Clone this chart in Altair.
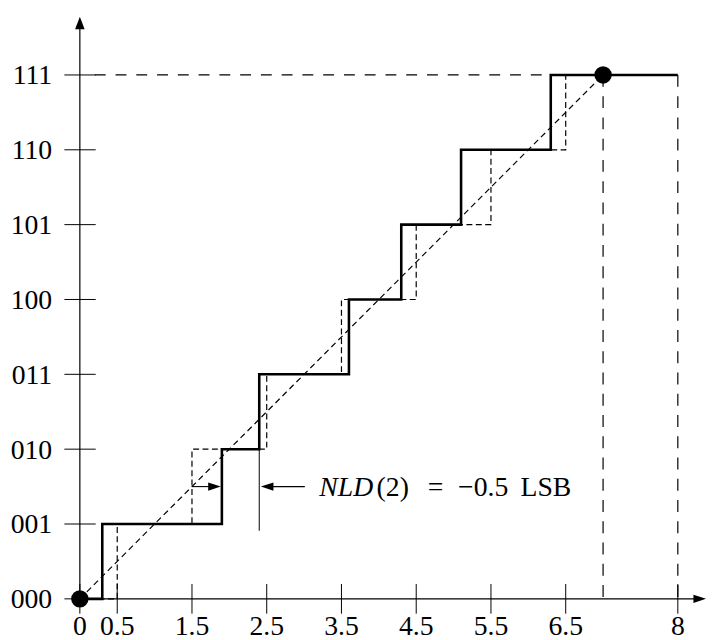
import altair as alt
import pandas as pd

# ---------------- data ----------------
y_levels = [0, 1, 2, 3, 4, 5, 6, 7]
y_codes = ["000", "001", "010", "011", "100", "101", "110", "111"]
x_tick_values = [0, 0.5, 1.5, 2.5, 3.5, 4.5, 5.5, 6.5, 8]
x_tick_labels = ["0", "0.5", "1.5", "2.5", "3.5", "4.5", "5.5", "6.5", "8"]
ideal_transitions = [0.5, 1.5, 2.5, 3.5, 4.5, 5.5, 6.5]
actual_transitions = [0.3, 1.9, 2.4, 3.6, 4.3, 5.1, 6.3]
full_scale = 8
endpoint_x = [0, 7]
endpoint_y = [0, 7]
guide_x = [7, 8]
nld_label_parts = ["(2)", "=", "\u22120.5", "LSB"]

# ---------------- scales ----------------
X_DOM = [-0.9613, 8.3769]
Y_DOM = [-0.502, 7.8468]
xs = alt.Scale(domain=X_DOM, nice=False, zero=False)
ys = alt.Scale(domain=Y_DOM, nice=False, zero=False)
FONT = "Liberation Serif"
FS = 28


def X(field, t="quantitative"):
    return alt.X(field, type=t, scale=xs, axis=None)


def Y(field, t="quantitative"):
    return alt.Y(field, type=t, scale=ys, axis=None)


def xd(v):
    return alt.XDatum(v, scale=xs, axis=None)


def yd(v):
    return alt.YDatum(v, scale=ys, axis=None)


# ---------------- tables ----------------
top = y_levels[-1]
actual_df = pd.DataFrame({
    "x": [0] + actual_transitions + [full_scale],
    "y": y_levels + [top],
    "i": list(range(len(y_levels) + 1)),
})
ideal_df = pd.DataFrame({
    "x": [0] + ideal_transitions,
    "y": y_levels,
    "i": list(range(len(y_levels))),
})
diag_df = pd.DataFrame({"x": endpoint_x, "y": endpoint_y, "i": [0, 1]})
dots_df = pd.DataFrame({"x": endpoint_x, "y": endpoint_y})
guide_df = pd.DataFrame({"x": guide_x})
xt_df = pd.DataFrame({"x": x_tick_values, "label": x_tick_labels})
yt_df = pd.DataFrame({"y": y_levels, "label": y_codes})

BLACK = "#000000"
one = pd.DataFrame({"a": [0]})

# ideal (dashed) staircase
ideal = alt.Chart(ideal_df).mark_line(
    interpolate="step-after", color=BLACK, strokeWidth=1.2, strokeDash=[6, 3.5]
).encode(x=X("x"), y=Y("y"), order="i:Q")

# ideal diagonal
diag = alt.Chart(diag_df).mark_line(
    color=BLACK, strokeWidth=1.2, strokeDash=[6, 4]
).encode(x=X("x"), y=Y("y"), order="i:Q")

# dashed 111 line
top_line = alt.Chart(one).mark_rule(
    color=BLACK, strokeWidth=1.2, strokeDash=[11, 10]
).encode(x=xd(0.2), x2=alt.X2Datum(endpoint_x[1]), y=yd(top))

# vertical dashed guides at 7 and 8
guides = alt.Chart(guide_df).mark_rule(
    color=BLACK, strokeWidth=1.2, strokeDash=[12, 9.5]
).encode(x=X("x"), y=yd(top), y2=alt.Y2Datum(0))

# actual staircase
actual = alt.Chart(actual_df).mark_line(
    interpolate="step-after", color=BLACK, strokeWidth=2.6
).encode(x=X("x"), y=Y("y"), order="i:Q")

# thin marker line below step 3
marker = alt.Chart(one).mark_rule(
    color=BLACK, strokeWidth=1.0
).encode(x=xd(actual_transitions[2]), y=yd(2), y2=alt.Y2Datum(0.91))

# axes lines
x_axis = alt.Chart(one).mark_rule(
    color=BLACK, strokeWidth=1.2
).encode(x=xd(0), x2=alt.X2Datum(8.25), y=yd(0))
y_axis = alt.Chart(one).mark_rule(
    color=BLACK, strokeWidth=1.2
).encode(x=xd(0), y=yd(0), y2=alt.Y2Datum(7.65))

UP = "M0,0L0.76,2L-0.76,2Z"
RIGHT = "M0,0L-2,-0.66L-2,0.66Z"
LEFT = "M0,0L2,-0.66L2,0.66Z"
HEAD = 161

up_head = alt.Chart(one).mark_point(
    shape=UP, filled=True, size=HEAD, color=BLACK, opacity=1, strokeWidth=0
).encode(x=xd(0), y=yd(7.777))
right_head = alt.Chart(one).mark_point(
    shape=RIGHT, filled=True, size=HEAD, color=BLACK, opacity=1, strokeWidth=0
).encode(x=xd(8.377), y=yd(0))

# ticks
x_ticks = alt.Chart(xt_df).mark_rule(color=BLACK, strokeWidth=1.0).encode(
    x=X("x"), y=yd(-0.198), y2=alt.Y2Datum(0.198)
)
y_ticks = alt.Chart(yt_df).mark_rule(color=BLACK, strokeWidth=1.0).encode(
    y=Y("y"), x=xd(-0.207), x2=alt.X2Datum(0.212)
)

# tick labels
x_labels = alt.Chart(xt_df).mark_text(
    font=FONT, fontSize=FS, color=BLACK, align="center", baseline="alphabetic"
).encode(x=X("x"), y=yd(-0.482), text="label:N")
y_labels = alt.Chart(yt_df).mark_text(
    font=FONT, fontSize=FS, color=BLACK, align="right", baseline="alphabetic", dy=9.5
).encode(y=Y("y"), x=xd(-0.37), text="label:N")

# annotation arrows
ay = 1.5
shaft1 = alt.Chart(one).mark_rule(color=BLACK, strokeWidth=1.1).encode(
    x=xd(ideal_transitions[1]), x2=alt.X2Datum(1.8), y=yd(ay)
)
head1 = alt.Chart(one).mark_point(
    shape=RIGHT, filled=True, size=HEAD, color=BLACK, opacity=1, strokeWidth=0
).encode(x=xd(1.885), y=yd(ay))
shaft2 = alt.Chart(one).mark_rule(color=BLACK, strokeWidth=1.1).encode(
    x=xd(3.01), x2=alt.X2Datum(2.5), y=yd(ay)
)
head2 = alt.Chart(one).mark_point(
    shape=LEFT, filled=True, size=HEAD, color=BLACK, opacity=1, strokeWidth=0
).encode(x=xd(2.422), y=yd(ay))

# annotation text
nld_it = alt.Chart(pd.DataFrame({"t": ["NLD"]})).mark_text(
    font=FONT, fontSize=FS, fontStyle="italic", color=BLACK, align="left",
    baseline="alphabetic", dy=9.5
).encode(x=xd(3.204), y=yd(ay), text="t:N")
part_pos = [3.97, 4.76, 5.06, 5.895]
part_align = ["left", "center", "left", "left"]
parts = []
for txt, px, al in zip(nld_label_parts, part_pos, part_align):
    parts.append(
        alt.Chart(pd.DataFrame({"t": [txt]})).mark_text(
            font=FONT, fontSize=FS, color=BLACK, align=al, baseline="alphabetic", dy=9.5
        ).encode(x=xd(px), y=yd(ay), text="t:N")
    )

# end-point dots
dots = alt.Chart(dots_df).mark_circle(size=310, color=BLACK, opacity=1).encode(
    x=X("x"), y=Y("y")
)

chart = alt.layer(
    ideal, diag, top_line, guides, marker, shaft1, shaft2,
    x_axis, y_axis, x_ticks, y_ticks, actual,
    up_head, right_head, head1, head2,
    x_labels, y_labels, nld_it, *parts, dots,
).properties(
    width=706, height=632,
    autosize=alt.AutoSizeParams(type="none"),
    padding=0,
    background="white",
).configure_view(stroke=None)

chart.save("out.html", embed_options={"renderer": "svg", "actions": False})
